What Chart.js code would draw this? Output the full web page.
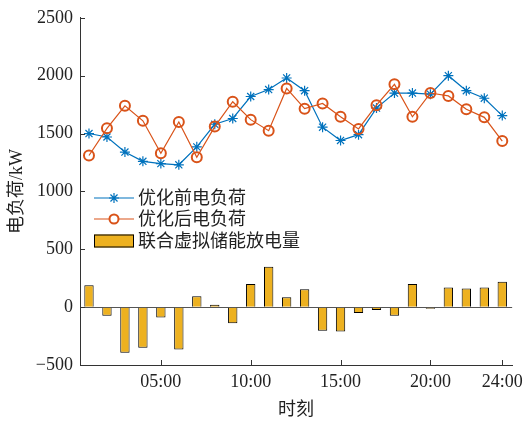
<!DOCTYPE html>
<html>
<head>
<meta charset="utf-8">
<script src="https://cdn.jsdelivr.net/npm/chart.js@4"></script>
<style>
  html, body { margin: 0; padding: 0; background: #fff; }
  #wrap { width: 529px; height: 421px; }
</style>
</head>
<body>
<div id="wrap"><canvas id="loadChart" width="529" height="421"></canvas></div>
<script>
const hours = [1,2,3,4,5,6,7,8,9,10,11,12,13,14,15,16,17,18,19,20,21,22,23,24];
const loadBefore = [1500,1470,1340,1260,1240,1230,1385,1580,1630,1820,1880,1980,1870,1555,1440,1490,1720,1850,1850,1840,2000,1870,1805,1655];
const loadAfter = [1310,1545,1740,1610,1330,1600,1295,1560,1775,1620,1525,1890,1715,1760,1645,1540,1745,1925,1645,1850,1825,1710,1640,1435];
const storageDischarge = [190,-75,-395,-350,-90,-365,95,20,-140,200,350,85,155,-205,-210,-50,-25,-75,200,-14,170,160,170,220];
const xTicks = [5, 10, 15, 20, 24];
const seriesNames = ['优化前电负荷', '优化后电负荷', '联合虚拟储能放电量'];

const FONT = '"Liberation Serif", "Noto Sans CJK SC", serif';
const BLUE = '#0072BD', ORANGE = '#D95319', GOLD = '#EDB120', AXIS = '#333';

const pts = vals => vals.map((v, i) => ({ x: hours[i], y: v }));

// inward ticks + in-plot legend, like the original figure
const extras = {
  id: 'extras',
  afterDraw(chart) {
    const ctx = chart.ctx, area = chart.chartArea;
    const xs = chart.scales.x, ys = chart.scales.y;
    ctx.save();
    ctx.strokeStyle = AXIS;
    ctx.lineWidth = 1;
    ctx.beginPath();
    ys.ticks.forEach(t => {
      const y = Math.round(ys.getPixelForValue(t.value)) + 0.5;
      ctx.moveTo(area.left, y); ctx.lineTo(area.left + 5, y);
    });
    xTicks.forEach(v => {
      const x = Math.round(xs.getPixelForValue(v)) + 0.5;
      ctx.moveTo(x, area.bottom); ctx.lineTo(x, area.bottom - 5);
    });
    ctx.stroke();

    // legend
    const lx0 = 94, lx1 = 134, tx = 138;
    const rows = [198, 219, 241];
    ctx.font = '18px ' + FONT;
    ctx.textBaseline = 'middle';

    ctx.strokeStyle = BLUE; ctx.lineWidth = 1.2;
    ctx.beginPath(); ctx.moveTo(lx0, rows[0]); ctx.lineTo(lx1, rows[0]); ctx.stroke();
    Chart.helpers.drawPoint(ctx, { pointStyle: 'star', radius: 5, borderWidth: 1.2, rotation: 0 }, 114, rows[0]);

    ctx.strokeStyle = ORANGE;
    ctx.beginPath(); ctx.moveTo(lx0, rows[1]); ctx.lineTo(lx1, rows[1]); ctx.stroke();
    ctx.lineWidth = 2;
    ctx.fillStyle = '#fff';
    ctx.beginPath(); ctx.arc(114, rows[1], 4.5, 0, Math.PI * 2); ctx.fill(); ctx.stroke();

    ctx.fillStyle = GOLD; ctx.strokeStyle = '#000'; ctx.lineWidth = 1;
    ctx.fillRect(lx0, rows[2] - 6.5, lx1 - lx0, 13);
    ctx.strokeRect(lx0 + 0.5, rows[2] - 6, lx1 - lx0 - 1, 12);

    ctx.fillStyle = '#222';
    seriesNames.forEach((n, i) => ctx.fillText(n, tx, rows[i] + 1));
    ctx.restore();
  }
};

const config = {
  type: 'bar',
  data: {
    datasets: [
      {
        type: 'line',
        label: seriesNames[0],
        data: pts(loadBefore),
        borderColor: BLUE,
        borderWidth: 1.2,
        pointStyle: 'star',
        pointRadius: 5,
        pointBorderColor: BLUE,
        pointBorderWidth: 1.2,
        tension: 0,
        order: 2
      },
      {
        type: 'line',
        label: seriesNames[1],
        data: pts(loadAfter),
        borderColor: ORANGE,
        borderWidth: 1.2,
        pointStyle: 'circle',
        pointRadius: 5,
        pointBorderColor: ORANGE,
        pointBackgroundColor: 'rgba(255,255,255,0)',
        pointBorderWidth: 2,
        tension: 0,
        order: 1
      },
      {
        type: 'bar',
        label: seriesNames[2],
        data: pts(storageDischarge),
        backgroundColor: GOLD,
        borderColor: '#000',
        borderWidth: 1,
        barPercentage: 0.52,
        categoryPercentage: 1,
        order: 3
      }
    ]
  },
  options: {
    responsive: false,
    animation: false,
    layout: { padding: { left: 0, right: 10, top: 16, bottom: 0 } },
    plugins: {
      legend: { display: false },
      tooltip: { enabled: false }
    },
    scales: {
      x: {
        type: 'linear',
        min: 0.5,
        max: 24.55,
        offset: false,
        afterBuildTicks: s => { s.ticks = xTicks.map(v => ({ value: v })); },
        afterFit: s => { s.height = 56; },
        ticks: {
          color: '#222',
          font: { family: FONT, size: 18 },
          padding: 6,
          maxRotation: 0,
          autoSkip: false,
          callback: v => String(v).padStart(2, '0') + ':00'
        },
        grid: { display: false, drawTicks: false },
        border: { display: true, color: AXIS, width: 1 },
        title: {
          display: true,
          text: '时刻',
          color: '#222',
          font: { family: FONT, size: 18 },
          padding: { top: 0, bottom: 0 }
        }
      },
      y: {
        min: -500,
        max: 2500,
        afterFit: s => { s.width = 80; },
        ticks: {
          stepSize: 500,
          color: '#222',
          font: { family: FONT, size: 18 },
          padding: 7,
          callback: v => v < 0 ? '\u2212' + Math.abs(v) : String(v)
        },
        grid: {
          drawTicks: false,
          lineWidth: 1,
          color: c => (c.tick && c.tick.value === 0) ? '#555' : 'rgba(0,0,0,0)'
        },
        border: { display: true, color: AXIS, width: 1 },
        title: {
          display: true,
          text: '电负荷/kW',
          color: '#222',
          font: { family: FONT, size: 18 },
          padding: { top: 6, bottom: 0 }
        }
      }
    }
  },
  plugins: [extras]
};

const loadChart = new Chart(document.getElementById('loadChart').getContext('2d'), config);
</script>
</body>
</html>
